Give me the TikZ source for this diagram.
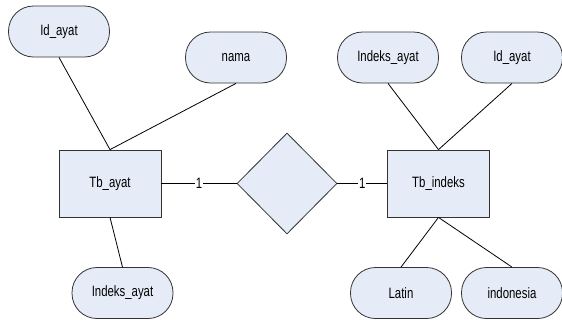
\documentclass[tikz,border=0pt]{standalone}
\usepackage{fontspec}
\setmainfont{Liberation Sans}[FakeStretch=0.76]
\usetikzlibrary{shapes.geometric}
\definecolor{boxfill}{HTML}{E6ECF7}
\definecolor{edge}{HTML}{333333}
\begin{document}
\begin{tikzpicture}[x=1pt,y=-1pt,
  attr/.style={draw=edge,fill=boxfill,line width=0.8pt,rounded corners=25pt,minimum width=101pt,minimum height=51pt,inner sep=0pt,font=\fontsize{15}{17}\selectfont},
  ent/.style={draw=edge,fill=boxfill,line width=0.8pt,minimum width=102pt,minimum height=67pt,inner sep=0pt,font=\fontsize{15}{17}\selectfont},
  rel/.style={draw=edge,fill=boxfill,line width=0.8pt,diamond,minimum width=100pt,minimum height=101pt,inner sep=0pt},
  card/.style={fill=white,inner sep=1pt,font=\fontsize{15}{17}\selectfont},
  conn/.style={draw=black,line width=0.8pt}]
\useasboundingbox (0,0) rectangle (562,322);
\node[attr] (idl) at (59,31.5) {Id\_ayat};
\node[attr] (nama) at (236,57.5) {nama};
\node[ent] (tba) at (110,183.5) {Tb\_ayat};
\node[attr] (ikl) at (122.5,293) {Indeks\_ayat};
\node[rel] (r) at (287,183.5) {};
\node[ent] (tbi) at (438.5,183.5) {Tb\_indeks};
\node[attr] (ikr) at (388,57.5) {Indeks\_ayat};
\node[attr] (idr) at (512,57.5) {Id\_ayat};
\node[attr] (lat) at (401,293) {Latin};
\node[attr] (ind) at (512,293) {indonesia};
\draw[conn] (idl.south) -- (tba.north);
\draw[conn] (nama.south) -- (tba.north);
\draw[conn] (tba.south) -- (ikl.north);
\draw[conn] (tba.east) -- node[card]{1} (r.west);
\draw[conn] (r.east) -- node[card]{1} (tbi.west);
\draw[conn] (ikr.south) -- (tbi.north);
\draw[conn] (idr.south) -- (tbi.north);
\draw[conn] (tbi.south) -- (lat.north);
\draw[conn] (tbi.south) -- (ind.north);
\end{tikzpicture}
\end{document}
